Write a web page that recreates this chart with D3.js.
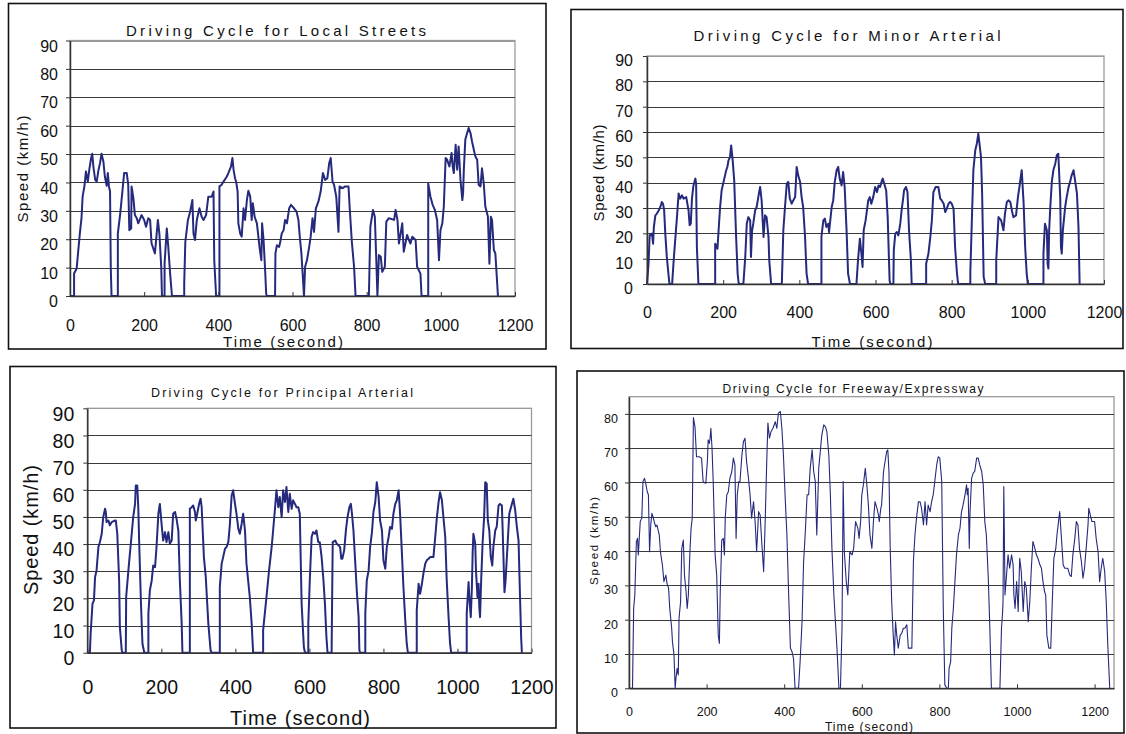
<!DOCTYPE html>
<html><head><meta charset="utf-8">
<script src="https://cdn.jsdelivr.net/npm/d3@7"></script>
<style>body{margin:0;background:#fff}svg{display:block}</style>
</head><body>
<script>
// ---------- DATA ----------
const xTicks = [0,200,400,600,800,1000,1200];
const yTicks90 = [0,10,20,30,40,50,60,70,80,90];
const yTicks80 = [0,10,20,30,40,50,60,70,80];

const localTime = [0,11,11,18,22,27,31,34,39,43,48,52,57,60,63,68,72,77,81,85,90,94,99,102,105,108,110,112,129,129,135,139,146,153,157,160,165,166,171,175,180,184,193,200,205,211,216,220,229,237,241,246,248,255,255,261,265,270,275,308,308,311,318,324,330,333,337,342,349,355,360,367,373,382,387,389,394,403,403,409,414,423,427,434,438,441,445,448,452,454,459,463,468,472,477,481,486,490,493,498,504,511,516,518,522,526,529,531,553,554,558,564,567,571,576,580,585,591,596,604,611,616,620,624,629,631,634,639,645,649,654,658,663,670,676,682,688,694,699,703,708,712,718,724,727,735,742,751,754,760,766,770,806,810,817,822,826,829,833,838,842,849,853,860,874,878,883,887,896,900,909,914,918,923,932,936,945,948,966,966,972,978,984,990,995,999,1004,1008,1013,1017,1023,1029,1032,1035,1040,1044,1048,1053,1058,1060,1062,1066,1071,1075,1080,1084,1089,1093,1098,1102,1107,1111,1116,1120,1127,1131,1135,1138,1143,1147,1152,1154];
const localSpeed = [0,0,7.9,9.7,15.6,22.6,27.4,35,38.8,43.9,40.3,44.5,48.6,50.1,45.6,40.9,40.3,44.5,46.8,50.1,47.4,42.1,38.8,43.3,38.6,36.8,9.7,0,0,22,28.5,33.8,43.3,43.3,39.2,23.2,23.8,38.6,34.4,28.5,27.4,25.6,28.5,26.8,24.4,27.4,26.8,18.5,15,26.8,22,10.3,0,0,11.4,23.8,17.3,7.9,0,0,4.4,19.1,26.8,29.7,33.8,22,19.7,26.8,30.9,27.9,26.8,28.5,35,35,36.8,12.6,0,0,38.6,39.2,40.3,42.1,43.3,45.6,48.6,44.5,41.5,40.3,36.8,25.6,22,20.9,30.9,26.8,33.8,37.1,35,26.8,32.7,27.9,25.6,17.3,12.6,25.6,19.7,9.7,0.8,0,0,15,17.9,17.3,19.1,22,23.2,26.8,25.6,30.9,32.1,30.9,29.7,26.8,20.3,15,4.4,0,10.3,12.6,17.3,20.9,27.4,22.6,30.9,33.3,36.8,43.3,40.9,41.5,46.8,48.6,40.3,39.2,35,22.6,38.6,38,38.6,38.6,31.5,19.1,10.3,0,0,24.4,30.3,27.9,12.6,0,14.4,13.8,8.5,10.3,26.2,27.4,26.8,30.3,26.8,18.5,25.6,15.6,21.5,19.7,18.5,20.9,19.7,10.3,7.9,0,0,39.7,35,32.1,30.3,26.8,12.6,23.2,25.6,31.5,48.6,48,45.6,50.4,45.6,43.3,53.3,44.5,52.7,40.9,33.8,36.2,44.5,55.1,57.4,59.2,57.4,54.5,51.5,49.2,48,39.2,38.6,45,39.2,31.5,27.9,11.4,27.9,26.8,16.2,15,4.4,0];

const minorTime = [0,4,7,13,16,18,22,26,31,35,39,42,45,48,52,57,59,66,70,74,79,83,87,92,96,103,109,112,115,118,122,127,129,131,135,179,179,185,188,192,196,203,208,211,214,218,221,225,229,234,238,241,253,258,262,266,271,273,276,279,284,288,293,297,301,306,310,314,319,321,326,354,358,362,367,371,375,380,384,389,393,397,402,406,410,415,419,423,458,458,463,467,471,476,478,485,489,493,498,502,506,511,515,519,524,528,533,550,554,559,563,566,569,574,581,585,589,594,599,604,608,612,617,619,623,628,632,637,639,647,648,652,656,660,665,669,672,675,680,684,688,693,695,733,733,739,744,748,752,758,765,770,774,779,783,787,792,796,800,805,809,814,817,849,849,853,857,862,866,870,873,877,880,884,888,917,917,923,930,936,940,945,949,954,958,962,969,974,978,982,984,989,993,997,1000,1041,1041,1045,1050,1052,1054,1056,1059,1063,1067,1072,1076,1080,1085,1087,1089,1092,1098,1102,1107,1111,1115,1120,1124,1129,1133,1136];
const minorSpeed = [0,8,19.2,19.9,15.9,22.5,27.1,27.8,29.1,30.4,32.4,31.7,29.1,19.9,10.7,2.8,0,0,9.3,17.2,27.1,35.7,33.7,35,33.7,34.3,29.1,23.2,23.8,33.7,38.9,41.6,39.6,14.6,0,0,15.9,13.9,21.2,30.4,37,41.6,44.9,46.2,48.8,50.1,54.7,48.8,40.9,18.6,4.1,0,0,10.7,23.8,26.4,25.1,10.7,21.2,23.8,29.1,30.4,35,38.3,33,18.6,27.1,26.4,18.6,9.3,0,0,21.2,29.7,39.6,40.3,33.7,31.7,33,34.3,46.2,42.9,40.3,34.3,30.4,18.6,4.1,0,0,18.6,25.1,25.8,22.5,23.8,20.5,30.4,33,40.3,44.9,46.2,41.6,38.9,44.2,38.3,21.2,4.1,0,0,9.3,17.9,12,6.7,21.2,25.1,33,34.3,31.7,34.3,38.3,36.3,38.9,38.3,40.9,41.6,39.6,37,26.4,1.4,0,0,13.3,19.9,20.5,19.2,23.8,29.7,33,37,38.3,36.3,21.2,9.3,0,0,8,12,18.6,25.1,36.3,38.3,38.3,33.7,33,31.7,28.4,29.7,31.7,32.4,31.7,29.7,14.6,4.1,0,0,4.7,25.1,44.9,52.8,55.4,59.3,55.4,50.1,35.7,2.8,0,0,9.3,26.4,25.1,21.2,27.8,32.4,33,32.4,29.1,26.4,27.1,34.3,38.3,42.9,44.9,31.7,14.6,4.1,0,0,12,23.8,21.2,8,6.1,21.2,30.4,40.3,44.9,47.5,50.8,51.4,34.3,14.6,12,21.2,30.4,34.3,38.3,40.3,42.9,44.9,40.9,35.7,22.5,0];

const principalTime = [0,7,9,14,18,21,25,30,34,39,43,48,50,52,57,61,66,75,77,81,86,88,93,95,104,105,111,115,120,124,129,131,135,138,140,145,149,154,165,165,169,174,178,183,187,192,196,201,205,210,214,219,223,228,232,237,241,246,250,255,257,277,277,282,286,291,293,297,302,306,309,315,320,327,333,336,358,358,363,367,372,376,381,385,390,394,399,403,408,412,417,421,426,430,439,444,448,475,475,484,491,498,502,507,511,516,520,525,529,534,538,543,547,552,556,561,565,570,574,579,585,588,597,597,601,606,610,615,619,624,628,633,638,642,646,649,660,661,663,670,674,679,683,686,689,694,699,703,708,712,715,719,724,728,733,735,737,751,751,755,760,764,769,773,778,782,787,791,796,800,805,809,814,818,823,827,832,836,841,845,850,854,859,863,866,890,890,895,899,904,908,913,917,922,926,935,940,944,949,953,958,962,967,971,976,980,983,1025,1025,1030,1032,1036,1039,1041,1043,1048,1050,1054,1057,1059,1061,1064,1068,1072,1075,1079,1082,1086,1090,1094,1097,1102,1106,1111,1115,1120,1122,1127,1130,1135,1140,1147,1151,1156,1160,1165,1169,1172,1174];
const principalSpeed = [0,0,7,18,19.3,27.9,30.3,38.9,40.7,43.8,49.9,53,51.8,48.1,48.7,46.9,48.1,48.7,48.7,43.8,26.6,9.4,0.9,0,0,20.5,30.3,36.4,43.8,49.9,54.8,61.6,61.6,52.4,41.3,18,3.3,0,0,14.4,22.9,26.6,32.1,31.5,38.9,51.2,54.8,46.9,41.3,44.4,40.7,44.4,40.1,41.3,51.2,51.8,49.3,45,26.6,10.7,0,0,53,53.6,54.2,51.8,48.7,51.2,54.8,56.7,53.6,35.2,27.9,10.7,0.9,0,0,24.2,32.8,35.2,38.3,38.9,40.7,46.9,57.9,59.8,54.8,51.2,45.6,43.8,47.5,51.2,45,32.8,20.5,10.7,0,0,8.2,20.5,30.3,38.9,45,53,59.8,53.6,57.3,49.9,59.8,55.5,61,51.8,58.5,53,56.1,54.8,53.6,53.6,51.2,18,2.1,0,0,10.7,26.6,42.6,44.4,43.8,45,40.7,40.7,35.2,26.6,18,5.8,0,0,14.4,40.7,41.3,40.1,39.5,38.9,34.6,34.6,37.7,45.6,49.9,53.6,54.8,51.2,45,32.8,22.9,13.1,0.9,0,0,14.4,26.6,30.3,38.9,44.4,51.8,55.5,62.8,57.3,48.7,45,34,30.9,38.9,42.6,46.3,45.6,51.2,54.8,56.1,59.8,51.2,36.4,24.2,11.9,3.3,0,0,15.6,25.4,21.7,25.4,29.1,32.8,34,34.6,35.2,35.2,42.6,49.3,55.5,59.1,56.1,49.9,42.6,26.6,13.1,3.3,0,0,14.4,26,20.5,13.1,24.2,36.4,43.8,40.1,30.3,20.5,25.4,16.8,13.1,26.6,40.7,49.9,62.8,62.2,48.7,45,35.2,32.1,38.9,45,46.3,54.2,54.8,54.2,45.6,22.3,26.6,38.9,51.2,54.8,56.7,52.4,46.9,41.3,20.5,5.8,0];

const freewayTime = [0,9,12,15,19,22,24,26,29,33,36,40,43,47,50,53,56,59,62,66,69,72,78,81,86,90,95,98,102,105,110,112,116,119,121,124,127,129,133,136,140,143,147,150,153,157,160,163,166,170,174,181,187,191,196,198,202,204,207,209,211,214,217,222,226,230,233,235,239,243,246,248,252,256,260,265,269,273,276,279,283,286,291,295,299,303,308,312,316,321,325,329,334,338,342,347,351,355,358,362,366,371,377,381,385,390,394,398,403,407,411,416,420,424,428,437,441,446,450,454,459,463,467,472,476,480,484,489,493,497,502,506,510,515,519,523,528,532,536,541,545,549,552,555,560,564,569,575,579,584,590,593,597,600,604,609,613,617,621,626,630,634,639,643,645,649,651,656,660,664,667,670,673,677,681,684,687,690,694,699,703,707,711,716,720,729,733,737,741,746,750,754,759,763,767,771,776,780,784,789,793,797,801,806,810,814,819,823,825,829,832,836,840,844,849,853,857,861,866,870,872,874,877,879,883,887,891,896,900,904,909,913,917,921,926,930,934,956,960,963,964,966,968,969,973,977,981,986,990,992,995,999,1003,1007,1011,1016,1020,1024,1029,1033,1037,1041,1046,1050,1054,1059,1063,1067,1071,1074,1077,1082,1087,1091,1095,1100,1103,1107,1110,1114,1119,1123,1131,1136,1140,1144,1149,1153,1157,1161,1166,1170,1174,1179,1183,1185,1189,1193,1200,1204,1209,1213,1217,1221,1226,1230,1234,1239];
const freewaySpeed = [0,0,23.3,27.2,42.8,43.7,38.9,42.8,48.6,49.6,60.3,61.2,59.8,57.3,56.4,39.8,47.6,51,50,48.1,47.1,47.6,44.7,39.8,36,31.1,33,30.6,29.2,23.3,17.5,13.6,9.7,0,2.9,5.8,3.9,20.4,25.3,40.8,43.2,33,28.2,23.3,27.2,39.8,46.6,49.6,78.9,76.3,67.5,67.5,67.1,60.3,59.8,59.8,66.1,72.4,71.4,72.9,75.8,70,60.3,38.9,33,15.5,13.1,27.2,43.2,43.7,38.9,49.6,56.4,57.3,61.2,63.2,67.1,65.1,43.7,56.4,60.3,60.3,68,71.9,72.9,66.1,61.2,56.4,49.6,54.4,48.6,39.8,51.5,50.5,42.8,34,48.6,66.1,77.3,72.9,74.8,75.8,77.7,75.8,80.2,80.7,75.8,68,54.4,44.7,29.2,11.7,10.7,8.7,0,0,7.8,19.4,36.9,44.7,56.4,56.4,64.1,69.5,63.2,60.3,44.7,64.1,69,73.9,76.8,76.3,74.8,68,56.4,40.8,27.2,19.4,11.7,0,0,17.5,60.3,39.8,31.1,27.2,39.8,38.9,40.8,48.6,46.6,43.7,48.6,56.4,59.3,64.1,59.3,53.4,44.7,40.8,48.6,54.4,52.5,50.5,48.6,52.5,53.4,63.2,66.1,69,69.5,63.2,41.8,25.3,15.5,9.7,19.4,15.5,11.7,15.5,16,17.5,17.5,18.5,11.7,11.7,36.9,44.7,49.6,54.4,54.4,52.5,47.6,54.4,47.6,53.4,51.5,54.4,56.4,61.2,65.1,67.5,67.1,60.3,23.3,1,0,0,5.8,7.8,17.5,23.3,31.1,38.9,44.7,46.6,51.5,53.4,56.4,59.3,56.4,58.3,40.8,51.5,61.2,62.7,63.2,67.1,67.1,65.1,63.2,59.3,48.6,44.7,32.1,17.5,0,0,17.5,22.4,25.3,58.8,38.9,27.2,33,38.9,35,38.9,36,27.2,23.3,31.1,22.4,37.9,34,22.4,31.1,29.2,19.4,25.3,35,42.8,40.8,38.9,37.9,36,35,31.1,28.2,27.2,15.5,11.7,11.7,25.3,37.9,40.8,44.7,48.6,51.5,44.7,36,35,35,33,32.6,38.9,43.7,48.6,47.6,40.8,36.9,32.1,35,41.8,47.6,52.5,50.5,48.6,48.6,43.7,39.8,31.1,35,37.9,34,25.3,12.6,0];

// ---------- LAYOUT ----------
const FONT = "'Liberation Sans', Arial, sans-serif";
const svg = d3.select("body").append("svg").attr("width",1126).attr("height",734);

const panels = [
  {time: localTime, speed: localSpeed, title: "Driving Cycle for Local Streets",
   box:[8.5,3.5,546,349], x0:70, x1:515, xMax:1200, yBase:296, yTop:40.5, yMax:90, yTicks:yTicks90,
   tickFont:16, yLabGap:12, yLabDy:5, xLabOff:29,
   titleX:276, titleY:30, titleW:300, titleFont:15,
   xt:{x:283,y:341,w:120,f:15}, yt:{x:22,y:169,w:107,f:15}, lw:2},
  {time: minorTime, speed: minorSpeed, title: "Driving Cycle for Minor Arterial",
   box:[571,9.5,1123,348.5], x0:647, x1:1104, xMax:1200, yBase:284, yTop:56, yMax:90, yTicks:yTicks90,
   tickFont:16, yLabGap:14, yLabDy:4, xLabOff:28,
   titleX:847, titleY:35, titleW:307, titleFont:15,
   xt:{x:872,y:341,w:121,f:15}, yt:{x:598,y:173,w:97,f:15}, lw:2},
  {time: principalTime, speed: principalSpeed, title: "Driving Cycle for Principal Arterial",
   box:[10,366.5,556,728], x0:87.3, x1:531.5, xMax:1200, yBase:652.7, yTop:408.3, yMax:90, yTicks:yTicks90,
   tickFont:19.5, yLabGap:13, yLabDy:5, xLabOff:34,
   titleX:282, titleY:393, titleW:262, titleFont:12.5,
   xt:{x:300,y:718,w:140,f:20}, yt:{x:31,y:530,w:130,f:20}, lw:2},
  {time: freewayTime, speed: freewaySpeed, title: "Driving Cycle for Freeway/Expressway",
   box:[577,371,1124,733], x0:629, x1:1114, xMax:1250, yBase:688.3, yTop:396.7, yMax:85, yTicks:yTicks80,
   tickFont:12.5, yLabGap:11, yLabDy:4, xLabOff:23.5,
   titleX:853, titleY:389, titleW:261, titleFont:12,
   xt:{x:869,y:727,w:88,f:12}, yt:{x:594,y:541,w:88,f:11.5}, lw:1.1}
];

const fmt = d3.format("d");

panels.forEach(p => {
  const g = svg.append("g");
  // outer box
  g.append("rect").attr("x",p.box[0]).attr("y",p.box[1])
    .attr("width",p.box[2]-p.box[0]).attr("height",p.box[3]-p.box[1])
    .attr("fill","#fff").attr("stroke","#111").attr("stroke-width",1.6);

  const x = d3.scaleLinear().domain([0,p.xMax]).range([p.x0,p.x1]);
  const y = d3.scaleLinear().domain([0,p.yMax]).range([p.yBase,p.yTop]);

  // plot frame
  g.append("rect").attr("x",p.x0).attr("y",p.yTop).attr("width",p.x1-p.x0).attr("height",p.yBase-p.yTop)
    .attr("fill","#fff").attr("stroke","#9a9a9a").attr("stroke-width",1.3);
  // gridlines
  g.append("g").selectAll("line").data(p.yTicks.filter(v=>v>0))
    .join("line").attr("x1",p.x0).attr("x2",p.x1)
    .attr("y1",d=>Math.round(y(d))+0.5).attr("y2",d=>Math.round(y(d))+0.5)
    .attr("stroke",d=> d===p.yMax ? "#9a9a9a" : "#3a3a3a").attr("stroke-width",1);

  // data line
  const line = d3.line().x(d=>x(d[0])).y(d=>y(d[1]));
  g.append("path").datum(d3.zip(p.time,p.speed)).attr("d",line)
    .attr("fill","none").attr("stroke","#252a7d").attr("stroke-width",p.lw).attr("stroke-linejoin","round");

  // axes
  const yAxis = d3.axisLeft(y).tickValues(p.yTicks).tickFormat(fmt).tickSize(4).tickSizeOuter(0).tickPadding(p.yLabGap-4);
  const ya = g.append("g").attr("transform",`translate(${p.x0},0)`).call(yAxis);
  ya.select(".domain").attr("stroke","#333").attr("stroke-width",1.5);
  ya.selectAll(".tick line").attr("stroke","#333");
  ya.selectAll(".tick text").attr("font-family",FONT).attr("font-size",p.tickFont).attr("fill","#111")
    .attr("dy","0.35em").attr("y",p.yLabDy);

  const xAxis = d3.axisBottom(x).tickValues(xTicks).tickFormat(fmt).tickSize(-4).tickSizeOuter(0).tickPadding(0);
  const xa = g.append("g").attr("transform",`translate(0,${p.yBase})`).call(xAxis);
  xa.select(".domain").attr("stroke","#333").attr("stroke-width",1.5);
  xa.selectAll(".tick line").attr("stroke","#333");
  xa.selectAll(".tick text").attr("font-family",FONT).attr("font-size",p.tickFont).attr("fill","#111")
    .attr("y",p.xLabOff).attr("dy","0.35em");

  // title
  g.append("text").attr("x",p.titleX).attr("y",p.titleY).attr("text-anchor","middle")
    .attr("dominant-baseline","central").attr("font-family",FONT).attr("font-size",p.titleFont)
    .attr("fill","#111").attr("textLength",p.titleW).attr("lengthAdjust","spacing").text(p.title);
  // axis titles
  g.append("text").attr("x",p.xt.x).attr("y",p.xt.y).attr("text-anchor","middle")
    .attr("dominant-baseline","central").attr("font-family",FONT).attr("font-size",p.xt.f)
    .attr("fill","#111").attr("textLength",p.xt.w).attr("lengthAdjust","spacing").text("Time (second)");
  g.append("text").attr("transform",`translate(${p.yt.x},${p.yt.y}) rotate(-90)`).attr("text-anchor","middle")
    .attr("dominant-baseline","central").attr("font-family",FONT).attr("font-size",p.yt.f)
    .attr("fill","#111").attr("textLength",p.yt.w).attr("lengthAdjust","spacing").text("Speed (km/h)");
});
</script>
</body></html>
